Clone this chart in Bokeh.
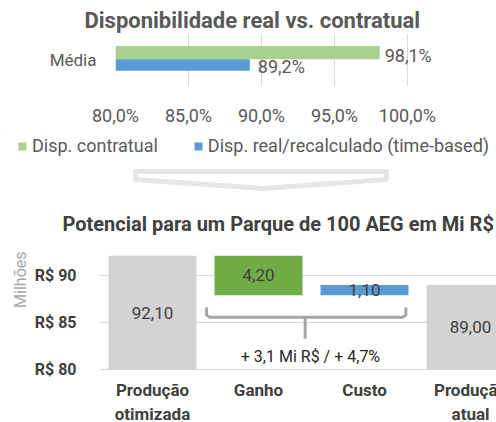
from bokeh.plotting import figure
from bokeh.models import Range1d, FactorRange, Legend, LegendItem, Title, ColumnDataSource
from bokeh.transform import dodge
from bokeh.embed import file_html
from bokeh.resources import INLINE
from bokeh.core.properties import value

FONT = "Roboto"

# ---------------- data: top chart ----------------
top_title = "Disponibilidade real vs. contratual"
top_category = ["Média"]
series_names = ["Disp. contratual", "Disp. real/recalculado (time-based)"]
series_colors = ["#a9d18e", "#5b9bd5"]
contratual = [98.1]
real = [89.2]
contratual_labels = ["98,1%"]
real_labels = ["89,2%"]
pct_ticks = [80, 85, 90, 95, 100]
pct_tick_labels = ["80,0%", "85,0%", "90,0%", "95,0%", "100,0%"]

# ---------------- data: bottom chart ----------------
bot_title = "Potencial para um Parque de 100 AEG em Mi R$"
categories = ["Produção\notimizada", "Ganho", "Custo", "Produção\natual"]
prod_otimizada = 92.10
ganho = 4.20
custo = 1.10
prod_atual = 89.00
money_ticks = [80, 85, 90]
money_tick_labels = ["R$ 80", "R$ 85", "R$ 90"]
y_axis_title = "Milhões"
summary_text = "+ 3,1 Mi R$ / + 4,7%"

# ---------------- styles ----------------
TXT = "#595959"
DARK = "#404040"
GRID = "#d9d9d9"
W = 496

# ================= top figure =================
p1 = figure(width=W, height=128, x_range=Range1d(80, 106.1),
            y_range=FactorRange(*top_category),
            output_backend="svg", toolbar_location=None,
            min_border_left=115, min_border_right=0, min_border_top=33,
            min_border_bottom=35)
p1.outline_line_color = None
p1.title = Title(text=top_title, align="left", offset=-31, standoff=2,
                 text_font=FONT, text_font_size="22px", text_font_style="bold",
                 text_color=TXT)

src_c = ColumnDataSource(dict(cat=top_category, v=contratual, lab=contratual_labels))
src_r = ColumnDataSource(dict(cat=top_category, v=real, lab=real_labels))

p1.hbar(y=dodge("cat", 0.14, range=p1.y_range), left=80, right="v", height=0.25,
        source=src_c, fill_color=series_colors[0], line_color=None)
p1.hbar(y=dodge("cat", -0.092, range=p1.y_range), left=80, right="v", height=0.217,
        source=src_r, fill_color=series_colors[1], line_color=None)
p1.text(x="v", y=dodge("cat", 0.082, range=p1.y_range), text="lab", source=src_c,
        x_offset=5, text_baseline="middle", text_font=value(FONT),
        text_font_size="18px", text_color=TXT)
p1.text(x="v", y=dodge("cat", -0.117, range=p1.y_range), text="lab", source=src_r,
        x_offset=8, text_baseline="middle", text_font=value(FONT),
        text_font_size="18px", text_color=TXT)

p1.xaxis.ticker = pct_ticks
p1.xaxis.major_label_overrides = dict(zip(pct_ticks, pct_tick_labels))
for ax in (p1.xaxis, p1.yaxis):
    ax.axis_line_color = None
    ax.major_tick_line_color = None
    ax.minor_tick_line_color = None
    ax.major_label_text_font = FONT
    ax.major_label_text_color = TXT
p1.xaxis.major_label_text_font_size = "18px"
p1.xaxis.major_label_standoff = 12
p1.yaxis.major_label_text_font_size = "17px"
p1.yaxis.major_label_standoff = 13
p1.xgrid.grid_line_color = GRID
p1.ygrid.grid_line_color = None

# ================= legend strip + chevron separator =================
chev_x = [135, 135, 263, 386, 386]
chev_y = [43, 51, 60, 51, 43]
p2 = figure(width=W, height=66, x_range=Range1d(0, W), y_range=Range1d(66, 0),
            output_backend="svg", toolbar_location=None,
            x_axis_type=None, y_axis_type=None,
            min_border=0, min_border_left=0, min_border_right=0,
            min_border_top=0, min_border_bottom=0)
p2.outline_line_color = None
p2.grid.visible = False
p2.patch(chev_x, chev_y, fill_color=None, line_color="#e6e6e6", line_width=5,
         line_join="round")
# legend swatches (kept outside the visible range; only the legend shows them)
leg_g = p2.hbar(y=[-1000], left=[0], right=[1], height=1,
                fill_color=series_colors[0], line_color=None)
leg_b = p2.hbar(y=[-1000], left=[0], right=[1], height=1,
                fill_color=series_colors[1], line_color=None)
legend = Legend(items=[LegendItem(label=series_names[0], renderers=[leg_g]),
                       LegendItem(label=series_names[1], renderers=[leg_b])],
                orientation="horizontal", location=(17, 38),
                glyph_width=10, glyph_height=10, label_standoff=5, spacing=35,
                label_height=20, padding=0, margin=0, border_line_color=None,
                background_fill_alpha=0,
                label_text_font=FONT, label_text_font_size="18px",
                label_text_color=TXT)
p2.add_layout(legend, "center")

# ================= bottom figure =================
xs = list(range(len(categories)))
bottoms = [80, prod_otimizada - ganho, prod_otimizada - ganho, 80]
tops = [prod_otimizada, prod_otimizada, prod_otimizada - ganho + custo, prod_atual]
bar_values = [prod_otimizada, ganho, custo, prod_atual]
bar_colors = ["#d3d3d3", "#70ad47", "#5b9bd5", "#d3d3d3"]
bar_labels = [f"{v:.2f}".replace(".", ",") for v in bar_values]
mids = [(lo + hi) / 2 for lo, hi in zip(bottoms, tops)]

p3 = figure(width=W, height=228, x_range=Range1d(-0.5, 3.245),
            y_range=Range1d(74.36, 92.553),
            output_backend="svg", toolbar_location=None,
            x_axis_location=None,
            min_border_left=99, min_border_right=0, min_border_top=57,
            min_border_bottom=0)
p3.outline_line_color = None
p3.title = Title(text=bot_title, align="left", offset=-37, standoff=31,
                 text_font=FONT, text_font_size="20px", text_font_style="bold",
                 text_color=DARK)

src_b = ColumnDataSource(dict(x=xs, bottom=bottoms, top=tops, color=bar_colors,
                              lab=bar_labels, mid=mids))
p3.vbar(x="x", bottom="bottom", top="top", width=0.83, fill_color="color",
        line_color=None, source=src_b)
p3.text(x="x", y="mid", text="lab", source=src_b, text_align="center",
        text_baseline="middle", text_font=value(FONT), text_font_size="17px",
        text_color=DARK)

# category labels under the bars
src_cat = ColumnDataSource(dict(x=xs, lab=categories))
p3.text(x="x", y=80, text="lab", source=src_cat, y_offset=11, text_align="center",
        text_baseline="top", text_font=value(FONT), text_font_size="17px",
        text_font_style="bold", text_color=DARK, text_line_height=1.2)

# bracket grouping gain and cost
brace_x = [[0.51, 0.51, 0.54, 2.36, 2.39, 2.39], [1.44, 1.44]]
brace_y = [[86.5, 85.8, 85.55, 85.55, 85.8, 86.5], [85.55, 83.4]]
p3.multi_line(brace_x, brace_y, line_color="#a6a6a6", line_width=3,
              line_join="round", line_cap="round")
p3.text(x=[1.49], y=[81.4], text=[summary_text], text_align="center",
        text_baseline="middle", text_font=value(FONT), text_font_size="16px",
        text_color="#262626")

yax = p3.yaxis[0]
yax.ticker = money_ticks
yax.major_label_overrides = dict(zip(money_ticks, money_tick_labels))
yax.axis_line_color = None
yax.major_tick_line_color = None
yax.minor_tick_line_color = None
yax.major_label_text_font = FONT
yax.major_label_text_font_size = "16px"
yax.major_label_text_font_style = "bold"
yax.major_label_text_color = DARK
yax.major_label_standoff = 17
p3.xgrid.grid_line_color = None
p3.ygrid.grid_line_color = GRID

p3.add_layout(Title(text=y_axis_title, align="right", standoff=4, text_font=FONT,
                    text_font_size="16px", text_font_style="normal",
                    text_color="#a6a6a6"), "left")

open("out.html", "w").write(file_html([p1, p2, p3], INLINE))
